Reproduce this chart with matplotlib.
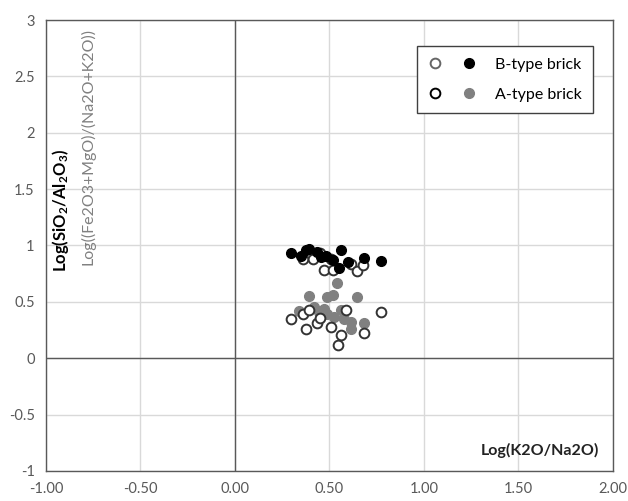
import matplotlib
matplotlib.use('Agg')
import matplotlib.pyplot as plt
from matplotlib.lines import Line2D
from matplotlib.legend_handler import HandlerTuple

plt.rcParams['font.family'] = ['Lato', 'DejaVu Sans']
plt.rcParams['mathtext.fontset'] = 'custom'
plt.rcParams['mathtext.rm'] = 'Lato'
plt.rcParams['mathtext.bf'] = 'Lato:bold'

# B-type brick: black = Log(SiO2/Al2O3), open = Log((Fe2O3+MgO)/(Na2O+K2O))
b_fill_x = [0.296, 0.35, 0.376, 0.393, 0.437, 0.455, 0.48, 0.517, 0.561, 0.596, 0.552, 0.684, 0.772]
b_fill_y = [0.929, 0.905, 0.958, 0.973, 0.943, 0.898, 0.91, 0.869, 0.958, 0.854, 0.796, 0.89, 0.86]
b_open_x = [0.358, 0.411, 0.508, 0.473, 0.517, 0.614, 0.645, 0.676, 0.45]
b_open_y = [0.884, 0.884, 0.884, 0.78, 0.786, 0.84, 0.774, 0.83, 0.93]

# A-type brick
a_fill_x = [0.54, 0.393, 0.49, 0.517, 0.645, 0.34, 0.42, 0.473, 0.49, 0.525, 0.578, 0.614, 0.614, 0.684, 0.444, 0.56]
a_fill_y = [0.668, 0.55, 0.54, 0.56, 0.544, 0.42, 0.455, 0.44, 0.396, 0.366, 0.352, 0.322, 0.255, 0.308, 0.41, 0.425]
a_open_x = [0.296, 0.363, 0.376, 0.434, 0.451, 0.508, 0.561, 0.547, 0.587, 0.684, 0.772, 0.39]
a_open_y = [0.352, 0.396, 0.255, 0.313, 0.361, 0.278, 0.204, 0.115, 0.432, 0.224, 0.41, 0.425]

x_ticks = [-1.0, -0.5, 0.0, 0.5, 1.0, 1.5, 2.0]
y_ticks = [-1, -0.5, 0, 0.5, 1, 1.5, 2, 2.5, 3]

fig = plt.figure(figsize=(6.28, 5.01), dpi=100)
ax = fig.add_axes([0.073, 0.06, 0.903, 0.9])

ms = 7
ax.plot(a_fill_x, a_fill_y, 'o', ms=ms, color='#808080', mec='#808080', zorder=3)
ax.plot(a_open_x, a_open_y, 'o', ms=ms, mfc='white', mec='#333333', mew=1.4, zorder=4)
ax.plot(b_open_x, b_open_y, 'o', ms=ms, mfc='white', mec='#333333', mew=1.4, zorder=3)
ax.plot(b_fill_x, b_fill_y, 'o', ms=ms, color='black', zorder=4)

ax.set_xlim(-1, 2)
ax.set_ylim(-1, 3)
ax.set_xticks(x_ticks)
ax.set_yticks(y_ticks)
ax.set_xticklabels([f'{t:.2f}' for t in x_ticks])
ax.set_yticklabels([f'{t:g}' for t in y_ticks])
ax.tick_params(length=0, labelsize=10.5, labelcolor='#595959', pad=8)
ax.grid(True, color='#d9d9d9', lw=1.0)
ax.set_axisbelow(True)
ax.axhline(0, color='#595959', lw=1.0, zorder=2)
ax.axvline(0, color='#595959', lw=1.0, zorder=2)
for s in ax.spines.values():
    s.set_color('#595959')
    s.set_linewidth(1.0)

ax.text(0.025, 0.578, r'$\mathbf{Log(SiO_2/Al_2O_3)}$', transform=ax.transAxes,
        rotation=90, ha='center', va='center', fontsize=12, color='black')
ax.text(0.074, 0.72, 'Log((Fe2O3+MgO)/(Na2O+K2O))', transform=ax.transAxes,
        rotation=90, ha='center', va='center', fontsize=11.5, color='#808080')
ax.text(0.975, 0.045, 'Log(K2O/Na2O)', transform=ax.transAxes,
        ha='right', va='center', fontsize=11.5, fontweight='bold', color='#222222')

h_b = (Line2D([], [], ls='none', marker='o', ms=ms, mfc='white', mec='#666666', mew=1.4),
       Line2D([], [], ls='none', marker='o', ms=ms, color='black'))
h_a = (Line2D([], [], ls='none', marker='o', ms=ms, mfc='white', mec='black', mew=1.4),
       Line2D([], [], ls='none', marker='o', ms=ms, color='#808080'))
leg = ax.legend([h_b, h_a], ['B-type brick', 'A-type brick'],
                handler_map={tuple: HandlerTuple(ndivide=None, pad=1.2)},
                loc='upper right', bbox_to_anchor=(0.965, 0.942), borderaxespad=0,
                fontsize=11.5, handlelength=3.0, handletextpad=1.2,
                labelspacing=1.0, borderpad=0.7, fancybox=False, framealpha=1)
leg.get_frame().set_edgecolor('#404040')
leg.get_frame().set_linewidth(1.0)

fig.savefig('out.png', dpi=100)
